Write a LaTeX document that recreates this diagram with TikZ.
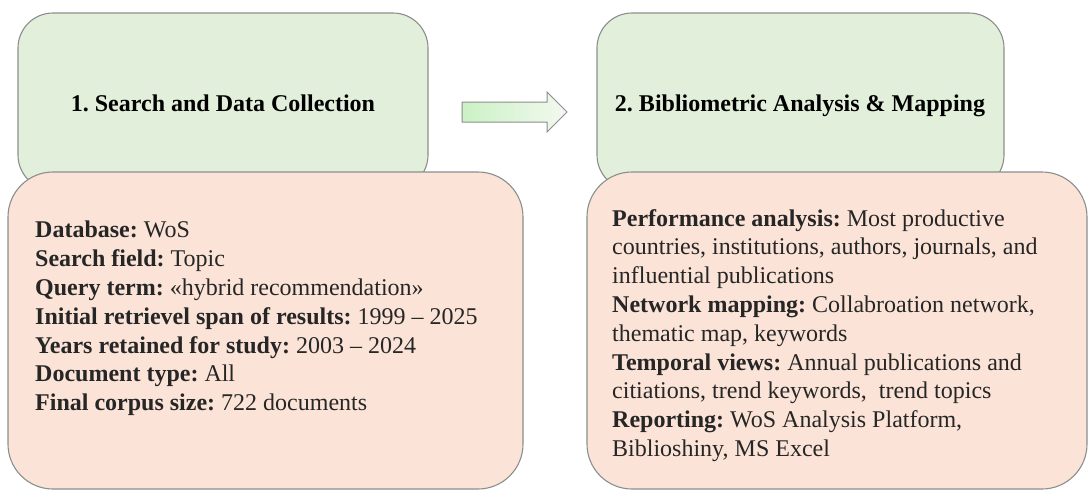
\documentclass[tikz,border=0pt]{standalone}
\usepackage{fontspec}
\setmainfont{Liberation Serif}
\frenchspacing
\definecolor{greenfill}{HTML}{E2EFDA}
\definecolor{salmonfill}{HTML}{FBE4D7}
\definecolor{edgegray}{HTML}{8A8F8C}
\definecolor{textdark}{HTML}{262626}
\tikzset{
  headbox/.style={draw=edgegray, line width=1.1pt, fill=greenfill, rounded corners=35pt},
  infobox/.style={draw=edgegray, line width=1.1pt, fill=salmonfill, rounded corners=45pt},
  titletext/.style={font=\fontsize{24}{28.8}\selectfont\bfseries, text=black, inner sep=0pt, anchor=base},
  bodytext/.style={font=\fontsize{24}{28.8}\selectfont, text=textdark, align=left, inner sep=0pt, anchor=north west},
}
\begin{document}
\begin{tikzpicture}[x=1pt,y=-1pt]
\useasboundingbox[fill=white] (0,0) rectangle (1088,491);
% green header boxes
\draw[headbox] (18,13) rectangle (428,190);
\draw[headbox] (597,13) rectangle (1004,190);
\node[titletext] (t1) at (223,111) {1. Search and Data Collection};
\node[titletext] (t2) at (800,111) {2. Bibliometric Analysis \& Mapping};
% arrow
\draw[draw=edgegray, line width=1pt, left color=greenfill!90!green, right color=greenfill!40!white]
  (462,102) -- (547,102) -- (547,92) -- (567,112) -- (547,132) -- (547,122) -- (462,122) -- cycle;
% salmon detail boxes
\draw[infobox] (8,172) rectangle (523,489);
\draw[infobox] (587,172) rectangle (1087,489);
\node[bodytext] (b1) at (35,221) {%
\textbf{Database:} WoS\\
\textbf{Search field:} Topic\\
\textbf{Query term:} «hybrid recommendation»\\
\textbf{Initial retrievel span of results:} 1999 – 2025\\
\textbf{Years retained for study:} 2003 – 2024\\
\textbf{Document type:} All\\
\textbf{Final corpus size:} 722 documents};
\node[bodytext] (b2) at (612,209) {%
\textbf{Performance analysis:} Most productive\\
countries, institutions, authors, journals, and\\
influential publications\\
\textbf{Network mapping:} Collabroation network,\\
thematic map, keywords\\
\textbf{Temporal views:} Annual publications and\\
citiations, trend keywords,\ \ trend topics\\
\textbf{Reporting:} WoS Analysis Platform,\\
Biblioshiny, MS Excel};
\end{tikzpicture}
\end{document}
